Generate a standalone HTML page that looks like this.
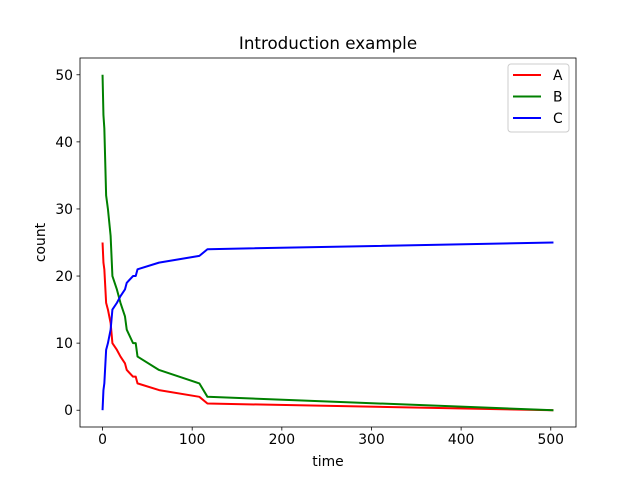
<!DOCTYPE html>
<html><head><meta charset="utf-8"><style>body{margin:0;background:#fff}svg text{font-family:"DejaVu Sans","Liberation Sans",sans-serif}</style></head>
<body>
<svg id="chart" width="640" height="480" xmlns="http://www.w3.org/2000/svg">
<rect width="640" height="480" fill="#fff"/>
<g id="plot"></g>
</svg>
<script>
const times=[0,1,2,4,6,9,11,16,20,25,27,34,37,39,63,108,117,503];
const seriesA=[25,22,21,16,15,13,10,9,8,7,6,5,5,4,3,2,1,0];
const seriesB=[50,44,42,32,30,26,20,18,16,14,12,10,10,8,6,4,2,0];
const seriesC=[0,3,4,9,10,12,15,16,17,18,19,20,20,21,22,23,24,25];
const xTicks=[0,100,200,300,400,500];
const yTicks=[0,10,20,30,40,50];
const L=80,R=576,T=58,B=427;
const xmin=-25.15,xmax=528.15,ymin=-2.5,ymax=52.5;
const X=v=>L+(v-xmin)/(xmax-xmin)*(R-L);
const Y=v=>B-(v-ymin)/(ymax-ymin)*(B-T);
const NS="http://www.w3.org/2000/svg";
const g=document.getElementById('plot');
function mk(t,a,p){const e=document.createElementNS(NS,t);for(const k in a)e.setAttribute(k,a[k]);(p||g).appendChild(e);return e;}
xTicks.forEach(v=>{
 const l=mk('line',{x1:X(v),x2:X(v),y1:B,y2:B+3.5,stroke:'#000','stroke-width':0.8});
 
 
 const t=mk('text',{x:X(v),y:B+17,'text-anchor':'middle','font-size':10*1.39});t.textContent=v;
 
 
});
yTicks.forEach(v=>{
 const l=mk('line',{x1:L-3.5,x2:L,y1:Y(v),y2:Y(v),stroke:'#000','stroke-width':0.8});
 
 
 const t=mk('text',{x:L-7,y:Y(v)+5,'text-anchor':'end','font-size':10*1.39});t.textContent=v;
 
 
});
[[seriesA,'#ff0000','series-a'],[seriesB,'#008000','series-b'],[seriesC,'#0000ff','series-c']].forEach(([s,c,n])=>{
 const p=mk('polyline',{points:times.map((t,i)=>X(t)+','+Y(s[i])).join(' '),fill:'none',stroke:c,'stroke-width':2,'stroke-linejoin':'round'});
 
 
});
const fr=mk('rect',{x:L,y:T,width:R-L,height:B-T,fill:'none',stroke:'#000','stroke-width':0.8});


const ti=mk('text',{x:(L+R)/2,y:T-9,'text-anchor':'middle','font-size':16.7});ti.textContent='Introduction example';


const xl=mk('text',{x:(L+R)/2,y:466,'text-anchor':'middle','font-size':13.9});xl.textContent='time';


const yl=mk('text',{x:45,y:(T+B)/2,'text-anchor':'middle','font-size':13.9,transform:'rotate(-90 45 '+(T+B)/2+')'});yl.textContent='count';


const lg=mk('g',{});


mk('rect',{x:508,y:64,width:61,height:68,rx:3,fill:'#fff',stroke:'#ccc','stroke-width':1},lg);
[['A','#ff0000'],['B','#008000'],['C','#0000ff']].forEach(([n,c],i)=>{
 const y=75+i*21.5;
 const e=mk('g',{},lg);
 
 
 mk('line',{x1:513,x2:541,y1:y,y2:y,stroke:c,'stroke-width':2},e);
 const t=mk('text',{x:553,y:y+5,'font-size':13.9},e);t.textContent=n;
});
</script>
</body></html>
